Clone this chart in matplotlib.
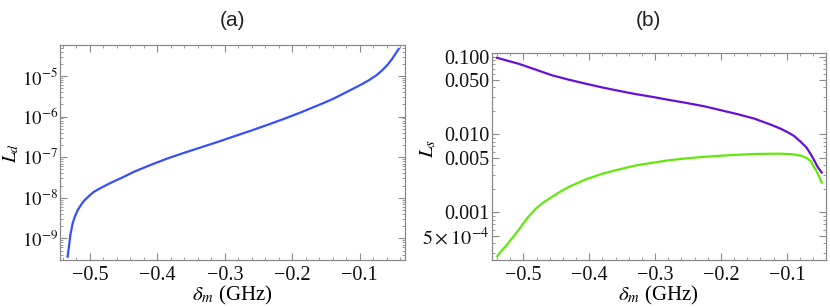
import numpy as np
import matplotlib
matplotlib.use("Agg")
import matplotlib.pyplot as plt
from matplotlib.ticker import FixedLocator, FixedFormatter, MultipleLocator, FuncFormatter

plt.rcParams["mathtext.fontset"] = "stix"
plt.rcParams["font.family"] = ["Liberation Serif", "DejaVu Serif"]

# ---- data ----
# panel (a): L_d vs delta_m (GHz), log10 values
delta_a = [-0.533, -0.532, -0.531, -0.529, -0.527, -0.5256, -0.522, -0.518,
           -0.513, -0.508, -0.501, -0.494, -0.482, -0.469, -0.452, -0.435,
           -0.410, -0.385, -0.360, -0.336, -0.310, -0.287, -0.262, -0.238,
           -0.213, -0.188, -0.163, -0.139, -0.120, -0.100, -0.087, -0.075,
           -0.066, -0.058, -0.052, -0.048, -0.042]
log_Ld = [-9.45, -9.32, -9.20, -8.92, -8.75, -8.63, -8.45, -8.30,
          -8.17, -8.06, -7.95, -7.85, -7.74, -7.63, -7.50, -7.36,
          -7.19, -7.03, -6.89, -6.76, -6.62, -6.49, -6.35, -6.21,
          -6.06, -5.90, -5.73, -5.56, -5.40, -5.23, -5.11, -4.98,
          -4.85, -4.71, -4.58, -4.48, -4.33]

# panel (b): L_s vs delta_m (GHz), two curves, log10 values
delta_purple = [-0.540, -0.520, -0.507, -0.481, -0.456, -0.430, -0.405, -0.380,
                -0.354, -0.330, -0.303, -0.280, -0.252, -0.225, -0.200, -0.175,
                -0.150, -0.125, -0.110, -0.100, -0.089, -0.079, -0.070, -0.063,
                -0.058, -0.0534, -0.047]
log_Ls_purple = [-1.017, -1.064, -1.094, -1.170, -1.243, -1.300, -1.350, -1.398,
                 -1.443, -1.482, -1.520, -1.556, -1.597, -1.640, -1.690, -1.740,
                 -1.796, -1.873, -1.925, -1.967, -2.020, -2.095, -2.170, -2.265,
                 -2.340, -2.415, -2.490]

delta_green = [-0.540, -0.534, -0.527, -0.517, -0.507, -0.500, -0.492, -0.482,
               -0.471, -0.456, -0.443, -0.430, -0.405, -0.380, -0.354, -0.330,
               -0.303, -0.280, -0.252, -0.225, -0.200, -0.175, -0.150, -0.130,
               -0.110, -0.095, -0.084, -0.076, -0.069, -0.063, -0.059, -0.055,
               -0.051, -0.047]
log_Ls_green = [-3.565, -3.500, -3.437, -3.330, -3.224, -3.140, -3.053, -2.960,
                -2.882, -2.798, -2.730, -2.670, -2.576, -2.505, -2.448, -2.400,
                -2.363, -2.333, -2.307, -2.288, -2.274, -2.262, -2.252, -2.249,
                -2.248, -2.253, -2.265, -2.280, -2.307, -2.350, -2.415, -2.470,
                -2.542, -2.619]

x_major = [-0.5, -0.4, -0.3, -0.2, -0.1]
x_major_labels = ["\u22120.5", "\u22120.4", "\u22120.3", "\u22120.2", "\u22120.1"]
ya_major = [1e-9, 1e-8, 1e-7, 1e-6, 1e-5]
ya_labels = [r"$10^{-9}$", r"$10^{-8}$", r"$10^{-7}$", r"$10^{-6}$", r"$10^{-5}$"]
yb_major = [5e-4, 1e-3, 5e-3, 1e-2, 5e-2, 1e-1]
yb_labels = [r"$5\times10^{-4}$", "0.001", "0.005", "0.010", "0.050", "0.100"]

FRAME = "#8a8a8a"


def log_minor(lo_exp, hi_exp, skip=()):
    vals = []
    for e in range(lo_exp, hi_exp + 1):
        for s in range(2, 10):
            if s not in skip:
                vals.append(s * 10.0 ** e)
    return vals


def style_axes(ax):
    for sp in ax.spines.values():
        sp.set_color(FRAME)
        sp.set_linewidth(0.9)
    ax.tick_params(which="both", direction="in", top=True, right=True,
                   colors=FRAME, labelcolor="#111111", labelsize=14.5)
    ax.tick_params(which="major", length=5, width=0.8)
    ax.tick_params(which="minor", length=2.5, width=0.6)
    ax.tick_params(axis="x", pad=4)
    ax.tick_params(axis="y", pad=2)
    ax.xaxis.set_major_locator(FixedLocator(x_major))
    ax.xaxis.set_major_formatter(FixedFormatter(x_major_labels))
    ax.xaxis.set_minor_locator(MultipleLocator(0.02))


fig = plt.figure(figsize=(8.3, 3.07), dpi=100)

# ---- panel (a) ----
ax1 = fig.add_axes([60 / 830, 47 / 307, 345 / 830, 215 / 307])
ax1.plot(delta_a, 10.0 ** np.array(log_Ld), color="#3550fa", lw=1.6)
ax1.set_yscale("log")
ax1.set_xlim(-0.5443, -0.0328)
ax1.set_ylim(10 ** -9.53, 10 ** -4.236)
style_axes(ax1)
ax1.tick_params(axis="y", labelsize=13.5, pad=1.5)
ax1.yaxis.set_major_locator(FixedLocator(ya_major))
ax1.yaxis.set_major_formatter(FixedFormatter(ya_labels))
ax1.yaxis.set_minor_locator(FixedLocator(log_minor(-10, -5)))
ax1.yaxis.set_minor_formatter(FuncFormatter(lambda v, p: ""))
ax1.set_xlabel(r"$\delta_m$ (GHz)", fontsize=15, va="center")
ax1.xaxis.set_label_coords(0.5, -0.165)
ax1.set_ylabel(r"$L_d$", fontsize=14, va="center")
ax1.yaxis.set_label_coords(-0.142, 0.5)

# ---- panel (b) ----
ax2 = fig.add_axes([492 / 830, 47 / 307, 334 / 830, 207 / 307])
ax2.plot(delta_purple, 10.0 ** np.array(log_Ls_purple), color="#6511d6", lw=1.6)
ax2.plot(delta_green, 10.0 ** np.array(log_Ls_green), color="#62e80c", lw=1.6)
ax2.set_yscale("log")
ax2.set_xlim(-0.5478, -0.0405)
ax2.set_ylim(10 ** -3.613, 10 ** -0.955)
style_axes(ax2)
ax2.yaxis.set_major_locator(FixedLocator(yb_major))
ax2.yaxis.set_major_formatter(FixedFormatter(yb_labels))
ax2.yaxis.set_minor_locator(FixedLocator(log_minor(-4, -1, skip=(5,))))
ax2.yaxis.set_minor_formatter(FuncFormatter(lambda v, p: ""))
ax2.set_xlabel(r"$\delta_m$ (GHz)", fontsize=15, va="center")
ax2.xaxis.set_label_coords(0.497, -0.171)
ax2.set_ylabel(r"$L_s$", fontsize=15, va="center")
ax2.yaxis.set_label_coords(-0.19, 0.54)

# ---- panel titles ----
fig.text(232 / 830, 1 - 20 / 307, "(a)", ha="center", va="center",
         fontsize=15, family=["Liberation Sans Narrow", "Liberation Sans", "DejaVu Sans"],
         color="#222222")
fig.text(648 / 830, 1 - 20 / 307, "(b)", ha="center", va="center",
         fontsize=15, family=["Liberation Sans Narrow", "Liberation Sans", "DejaVu Sans"],
         color="#222222")

fig.savefig("out.png", dpi=100)
